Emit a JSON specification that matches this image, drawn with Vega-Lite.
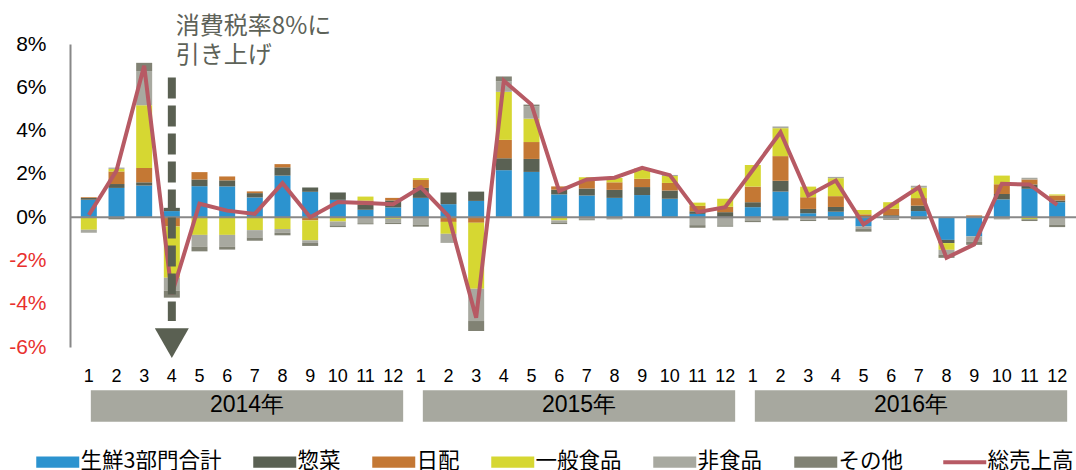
{
  "$schema": "https://vega.github.io/schema/vega-lite/v6.json",
  "width": 1006,
  "height": 303,
  "autosize": {"type": "none"},
  "padding": {"left": 70, "top": 44, "right": 0, "bottom": 123},
  "background": "white",
  "config": {
    "view": {"stroke": null},
    "font": "Liberation Sans",
    "axis": {"labelFont": "Liberation Sans"}
  },
  "datasets": {
    "series": [
      {"s": "生鮮3部門合計", "o": 1},
      {"s": "惣菜", "o": 2},
      {"s": "日配", "o": 3},
      {"s": "一般食品", "o": 4},
      {"s": "非食品", "o": 5},
      {"s": "その他", "o": 6}
    ],
    "total": [
      {"i": 1, "m": 1, "year": "2014年", "t": 0.1},
      {"i": 2, "m": 2, "year": "2014年", "t": 2.15},
      {"i": 3, "m": 3, "year": "2014年", "t": 7.0},
      {"i": 4, "m": 4, "year": "2014年", "t": -3.55},
      {"i": 5, "m": 5, "year": "2014年", "t": 0.62},
      {"i": 6, "m": 6, "year": "2014年", "t": 0.3},
      {"i": 7, "m": 7, "year": "2014年", "t": 0.15},
      {"i": 8, "m": 8, "year": "2014年", "t": 1.57},
      {"i": 9, "m": 9, "year": "2014年", "t": 0.0},
      {"i": 10, "m": 10, "year": "2014年", "t": 0.7},
      {"i": 11, "m": 11, "year": "2014年", "t": 0.65},
      {"i": 12, "m": 12, "year": "2014年", "t": 0.6},
      {"i": 13, "m": 1, "year": "2015年", "t": 1.38},
      {"i": 14, "m": 2, "year": "2015年", "t": 0.05},
      {"i": 15, "m": 3, "year": "2015年", "t": -4.65},
      {"i": 16, "m": 4, "year": "2015年", "t": 6.3},
      {"i": 17, "m": 5, "year": "2015年", "t": 5.2},
      {"i": 18, "m": 6, "year": "2015年", "t": 1.2},
      {"i": 19, "m": 7, "year": "2015年", "t": 1.74},
      {"i": 20, "m": 8, "year": "2015年", "t": 1.82},
      {"i": 21, "m": 9, "year": "2015年", "t": 2.28},
      {"i": 22, "m": 10, "year": "2015年", "t": 1.94},
      {"i": 23, "m": 11, "year": "2015年", "t": 0.23},
      {"i": 24, "m": 12, "year": "2015年", "t": 0.46},
      {"i": 25, "m": 1, "year": "2016年", "t": 2.18},
      {"i": 26, "m": 2, "year": "2016年", "t": 3.92},
      {"i": 27, "m": 3, "year": "2016年", "t": 1.0},
      {"i": 28, "m": 4, "year": "2016年", "t": 1.69},
      {"i": 29, "m": 5, "year": "2016年", "t": -0.34},
      {"i": 30, "m": 6, "year": "2016年", "t": 0.55},
      {"i": 31, "m": 7, "year": "2016年", "t": 1.38},
      {"i": 32, "m": 8, "year": "2016年", "t": -1.88},
      {"i": 33, "m": 9, "year": "2016年", "t": -1.26},
      {"i": 34, "m": 10, "year": "2016年", "t": 1.54},
      {"i": 35, "m": 11, "year": "2016年", "t": 1.51},
      {"i": 36, "m": 12, "year": "2016年", "t": 0.57}
    ],
    "parts": [
      {"i": 1, "s": "生鮮3部門合計", "v": 0.8}, {"i": 1, "s": "惣菜", "v": 0.09}, {"i": 1, "s": "日配", "v": 0.03}, {"i": 1, "s": "一般食品", "v": -0.58}, {"i": 1, "s": "非食品", "v": -0.14}, {"i": 1, "s": "その他", "v": 0},
      {"i": 2, "s": "生鮮3部門合計", "v": 1.35}, {"i": 2, "s": "惣菜", "v": 0.18}, {"i": 2, "s": "日配", "v": 0.58}, {"i": 2, "s": "一般食品", "v": 0.12}, {"i": 2, "s": "非食品", "v": 0.06}, {"i": 2, "s": "その他", "v": -0.1},
      {"i": 3, "s": "生鮮3部門合計", "v": 1.46}, {"i": 3, "s": "惣菜", "v": 0.15}, {"i": 3, "s": "日配", "v": 0.66}, {"i": 3, "s": "一般食品", "v": 2.9}, {"i": 3, "s": "非食品", "v": 1.58}, {"i": 3, "s": "その他", "v": 0.38},
      {"i": 4, "s": "生鮮3部門合計", "v": 0.28}, {"i": 4, "s": "惣菜", "v": 0.15}, {"i": 4, "s": "日配", "v": -0.43}, {"i": 4, "s": "一般食品", "v": -2.37}, {"i": 4, "s": "非食品", "v": -0.6}, {"i": 4, "s": "その他", "v": -0.32},
      {"i": 5, "s": "生鮮3部門合計", "v": 1.43}, {"i": 5, "s": "惣菜", "v": 0.31}, {"i": 5, "s": "日配", "v": 0.34}, {"i": 5, "s": "一般食品", "v": -0.82}, {"i": 5, "s": "非食品", "v": -0.54}, {"i": 5, "s": "その他", "v": -0.22},
      {"i": 6, "s": "生鮮3部門合計", "v": 1.42}, {"i": 6, "s": "惣菜", "v": 0.28}, {"i": 6, "s": "日配", "v": 0.18}, {"i": 6, "s": "一般食品", "v": -0.82}, {"i": 6, "s": "非食品", "v": -0.54}, {"i": 6, "s": "その他", "v": -0.14},
      {"i": 7, "s": "生鮮3部門合計", "v": 0.91}, {"i": 7, "s": "惣菜", "v": 0.2}, {"i": 7, "s": "日配", "v": 0.08}, {"i": 7, "s": "一般食品", "v": -0.6}, {"i": 7, "s": "非食品", "v": -0.34}, {"i": 7, "s": "その他", "v": -0.15},
      {"i": 8, "s": "生鮮3部門合計", "v": 1.92}, {"i": 8, "s": "惣菜", "v": 0.38}, {"i": 8, "s": "日配", "v": 0.15}, {"i": 8, "s": "一般食品", "v": -0.55}, {"i": 8, "s": "非食品", "v": -0.17}, {"i": 8, "s": "その他", "v": -0.12},
      {"i": 9, "s": "生鮮3部門合計", "v": 1.17}, {"i": 9, "s": "惣菜", "v": 0.2}, {"i": 9, "s": "日配", "v": -0.15}, {"i": 9, "s": "一般食品", "v": -0.92}, {"i": 9, "s": "非食品", "v": -0.12}, {"i": 9, "s": "その他", "v": -0.14},
      {"i": 10, "s": "生鮮3部門合計", "v": 0.8}, {"i": 10, "s": "惣菜", "v": 0.34}, {"i": 10, "s": "日配", "v": 0}, {"i": 10, "s": "一般食品", "v": -0.2}, {"i": 10, "s": "非食品", "v": -0.18}, {"i": 10, "s": "その他", "v": -0.08},
      {"i": 11, "s": "生鮮3部門合計", "v": 0.34}, {"i": 11, "s": "惣菜", "v": 0.23}, {"i": 11, "s": "日配", "v": 0.2}, {"i": 11, "s": "一般食品", "v": 0.18}, {"i": 11, "s": "非食品", "v": -0.28}, {"i": 11, "s": "その他", "v": -0.05},
      {"i": 12, "s": "生鮮3部門合計", "v": 0.45}, {"i": 12, "s": "惣菜", "v": 0.32}, {"i": 12, "s": "日配", "v": 0.12}, {"i": 12, "s": "一般食品", "v": -0.08}, {"i": 12, "s": "非食品", "v": -0.18}, {"i": 12, "s": "その他", "v": -0.06},
      {"i": 13, "s": "生鮮3部門合計", "v": 0.89}, {"i": 13, "s": "惣菜", "v": 0.46}, {"i": 13, "s": "日配", "v": 0.37}, {"i": 13, "s": "一般食品", "v": 0.08}, {"i": 13, "s": "非食品", "v": -0.34}, {"i": 13, "s": "その他", "v": -0.1},
      {"i": 14, "s": "生鮮3部門合計", "v": 0.6}, {"i": 14, "s": "惣菜", "v": 0.54}, {"i": 14, "s": "日配", "v": -0.22}, {"i": 14, "s": "一般食品", "v": -0.55}, {"i": 14, "s": "非食品", "v": -0.42}, {"i": 14, "s": "その他", "v": 0},
      {"i": 15, "s": "生鮮3部門合計", "v": 0.75}, {"i": 15, "s": "惣菜", "v": 0.43}, {"i": 15, "s": "日配", "v": -0.26}, {"i": 15, "s": "一般食品", "v": -3.05}, {"i": 15, "s": "非食品", "v": -1.49}, {"i": 15, "s": "その他", "v": -0.46},
      {"i": 16, "s": "生鮮3部門合計", "v": 2.17}, {"i": 16, "s": "惣菜", "v": 0.55}, {"i": 16, "s": "日配", "v": 0.85}, {"i": 16, "s": "一般食品", "v": 2.22}, {"i": 16, "s": "非食品", "v": 0.49}, {"i": 16, "s": "その他", "v": 0.22},
      {"i": 17, "s": "生鮮3部門合計", "v": 2.09}, {"i": 17, "s": "惣菜", "v": 0.6}, {"i": 17, "s": "日配", "v": 0.78}, {"i": 17, "s": "一般食品", "v": 1.08}, {"i": 17, "s": "非食品", "v": 0.57}, {"i": 17, "s": "その他", "v": 0.08},
      {"i": 18, "s": "生鮮3部門合計", "v": 1.05}, {"i": 18, "s": "惣菜", "v": 0.22}, {"i": 18, "s": "日配", "v": 0.15}, {"i": 18, "s": "一般食品", "v": -0.15}, {"i": 18, "s": "非食品", "v": -0.12}, {"i": 18, "s": "その他", "v": -0.05},
      {"i": 19, "s": "生鮮3部門合計", "v": 1.0}, {"i": 19, "s": "惣菜", "v": 0.32}, {"i": 19, "s": "日配", "v": 0.37}, {"i": 19, "s": "一般食品", "v": 0.15}, {"i": 19, "s": "非食品", "v": -0.1}, {"i": 19, "s": "その他", "v": -0.04},
      {"i": 20, "s": "生鮮3部門合計", "v": 0.89}, {"i": 20, "s": "惣菜", "v": 0.37}, {"i": 20, "s": "日配", "v": 0.35}, {"i": 20, "s": "一般食品", "v": 0.2}, {"i": 20, "s": "非食品", "v": -0.07}, {"i": 20, "s": "その他", "v": -0.03},
      {"i": 21, "s": "生鮮3部門合計", "v": 1.02}, {"i": 21, "s": "惣菜", "v": 0.37}, {"i": 21, "s": "日配", "v": 0.38}, {"i": 21, "s": "一般食品", "v": 0.48}, {"i": 21, "s": "非食品", "v": 0}, {"i": 21, "s": "その他", "v": 0},
      {"i": 22, "s": "生鮮3部門合計", "v": 0.85}, {"i": 22, "s": "惣菜", "v": 0.38}, {"i": 22, "s": "日配", "v": 0.35}, {"i": 22, "s": "一般食品", "v": 0.32}, {"i": 22, "s": "非食品", "v": 0.05}, {"i": 22, "s": "その他", "v": 0},
      {"i": 23, "s": "生鮮3部門合計", "v": 0.15}, {"i": 23, "s": "惣菜", "v": 0.12}, {"i": 23, "s": "日配", "v": 0.25}, {"i": 23, "s": "一般食品", "v": 0.15}, {"i": 23, "s": "非食品", "v": -0.37}, {"i": 23, "s": "その他", "v": -0.12},
      {"i": 24, "s": "生鮮3部門合計", "v": 0}, {"i": 24, "s": "惣菜", "v": 0.23}, {"i": 24, "s": "日配", "v": 0.25}, {"i": 24, "s": "一般食品", "v": 0.37}, {"i": 24, "s": "非食品", "v": -0.38}, {"i": 24, "s": "その他", "v": -0.06},
      {"i": 25, "s": "生鮮3部門合計", "v": 0.46}, {"i": 25, "s": "惣菜", "v": 0.23}, {"i": 25, "s": "日配", "v": 0.72}, {"i": 25, "s": "一般食品", "v": 1.0}, {"i": 25, "s": "非食品", "v": -0.15}, {"i": 25, "s": "その他", "v": -0.08},
      {"i": 26, "s": "生鮮3部門合計", "v": 1.18}, {"i": 26, "s": "惣菜", "v": 0.5}, {"i": 26, "s": "日配", "v": 1.14}, {"i": 26, "s": "一般食品", "v": 1.29}, {"i": 26, "s": "非食品", "v": 0.08}, {"i": 26, "s": "その他", "v": -0.15},
      {"i": 27, "s": "生鮮3部門合計", "v": 0.18}, {"i": 27, "s": "惣菜", "v": 0.2}, {"i": 27, "s": "日配", "v": 0.54}, {"i": 27, "s": "一般食品", "v": 0.49}, {"i": 27, "s": "非食品", "v": -0.12}, {"i": 27, "s": "その他", "v": -0.06},
      {"i": 28, "s": "生鮮3部門合計", "v": 0.25}, {"i": 28, "s": "惣菜", "v": 0.22}, {"i": 28, "s": "日配", "v": 0.5}, {"i": 28, "s": "一般食品", "v": 0.83}, {"i": 28, "s": "非食品", "v": 0.06}, {"i": 28, "s": "その他", "v": -0.12},
      {"i": 29, "s": "生鮮3部門合計", "v": -0.43}, {"i": 29, "s": "惣菜", "v": 0.05}, {"i": 29, "s": "日配", "v": 0.08}, {"i": 29, "s": "一般食品", "v": 0.2}, {"i": 29, "s": "非食品", "v": -0.12}, {"i": 29, "s": "その他", "v": -0.12},
      {"i": 30, "s": "生鮮3部門合計", "v": 0.03}, {"i": 30, "s": "惣菜", "v": 0.06}, {"i": 30, "s": "日配", "v": 0.3}, {"i": 30, "s": "一般食品", "v": 0.3}, {"i": 30, "s": "非食品", "v": -0.08}, {"i": 30, "s": "その他", "v": -0.04},
      {"i": 31, "s": "生鮮3部門合計", "v": 0.28}, {"i": 31, "s": "惣菜", "v": 0.25}, {"i": 31, "s": "日配", "v": 0.35}, {"i": 31, "s": "一般食品", "v": 0.48}, {"i": 31, "s": "非食品", "v": 0.09}, {"i": 31, "s": "その他", "v": -0.1},
      {"i": 32, "s": "生鮮3部門合計", "v": -1.05}, {"i": 32, "s": "惣菜", "v": -0.15}, {"i": 32, "s": "日配", "v": 0}, {"i": 32, "s": "一般食品", "v": -0.31}, {"i": 32, "s": "非食品", "v": -0.22}, {"i": 32, "s": "その他", "v": -0.15},
      {"i": 33, "s": "生鮮3部門合計", "v": -0.89}, {"i": 33, "s": "惣菜", "v": 0}, {"i": 33, "s": "日配", "v": 0.08}, {"i": 33, "s": "一般食品", "v": 0}, {"i": 33, "s": "非食品", "v": -0.25}, {"i": 33, "s": "その他", "v": -0.14},
      {"i": 34, "s": "生鮮3部門合計", "v": 0.82}, {"i": 34, "s": "惣菜", "v": 0.25}, {"i": 34, "s": "日配", "v": 0.45}, {"i": 34, "s": "一般食品", "v": 0.4}, {"i": 34, "s": "非食品", "v": -0.06}, {"i": 34, "s": "その他", "v": -0.04},
      {"i": 35, "s": "生鮮3部門合計", "v": 1.31}, {"i": 35, "s": "惣菜", "v": 0.2}, {"i": 35, "s": "日配", "v": 0.23}, {"i": 35, "s": "一般食品", "v": -0.1}, {"i": 35, "s": "非食品", "v": 0.08}, {"i": 35, "s": "その他", "v": -0.08},
      {"i": 36, "s": "生鮮3部門合計", "v": 0.69}, {"i": 36, "s": "惣菜", "v": 0.08}, {"i": 36, "s": "日配", "v": 0.23}, {"i": 36, "s": "一般食品", "v": 0.05}, {"i": 36, "s": "非食品", "v": -0.34}, {"i": 36, "s": "その他", "v": -0.12}
    ]
  },
  "layer": [
    {
      "data": {"name": "parts"},
      "transform": [
        {"lookup": "s", "from": {"data": {"name": "series"}, "key": "s", "fields": ["o"]}}
      ],
      "mark": {"type": "bar", "size": 16},
      "encoding": {
        "x": {
          "field": "i", "type": "quantitative",
          "scale": {"domain": [0.5, 36.5], "nice": false, "zero": false},
          "axis": {
            "labels": false, "domain": false, "ticks": false, "grid": false, "title": null
          }
        },
        "y": {
          "field": "v", "type": "quantitative", "stack": "zero",
          "scale": {"domain": [-6, 8], "nice": false, "zero": false},
          "axis": {
            "values": [-6, -4, -2, 0, 2, 4, 6, 8],
            "labelExpr": "datum.value + '%'",
            "labelColor": {"condition": {"test": "datum.value < 0", "value": "#e8302e"}, "value": "#000000"},
            "domain": true, "domainColor": "#888888", "domainWidth": 2,
            "ticks": false, "grid": false, "title": null,
            "labelPadding": 24, "labelFontSize": 21
          }
        },
        "color": {
          "field": "s", "type": "nominal",
          "scale": {
            "domain": ["生鮮3部門合計", "惣菜", "日配", "一般食品", "非食品", "その他", "総売上高"],
            "range": ["#2c93cf", "#5a6153", "#c47834", "#d6d732", "#a8a9a0", "#818274", "#b75a64"]
          },
          "legend": {
            "orient": "none", "legendX": -23, "legendY": 407,
            "direction": "horizontal", "title": null,
            "labelFont": "Noto Sans CJK JP", "labelFontSize": 21.5, "labelColor": "#000000",
            "labelOffset": 12, "symbolSize": 1849, "columnPadding": 31, "padding": 0,
            "encode": {
              "symbols": {
                "update": {
                  "shape": {"signal": "datum.value === '総売上高' ? 'stroke' : 'M-1,-0.26H1V0.26H-1Z'"},
                  "fill": {"signal": "datum.value === '総売上高' ? 'transparent' : scale('color', datum.value)"},
                  "stroke": {"signal": "scale('color', datum.value)"},
                  "strokeWidth": {"signal": "datum.value === '総売上高' ? 4 : 0"},
                  "opacity": {"value": 1}
                }
              }
            }
          }
        },
        "order": {"field": "o", "type": "quantitative"}
      }
    },
    {
      "data": {"name": "total"},
      "mark": {"type": "text", "fontSize": 18, "font": "Liberation Sans", "color": "#000000", "baseline": "middle"},
      "encoding": {
        "x": {"field": "i", "type": "quantitative"},
        "y": {"datum": -7.4, "type": "quantitative"},
        "text": {"field": "m"}
      }
    },
    {
      "data": {"name": "total"},
      "transform": [
        {"aggregate": [
          {"op": "min", "field": "i", "as": "a"},
          {"op": "max", "field": "i", "as": "b"},
          {"op": "mean", "field": "i", "as": "c"}
        ], "groupby": ["year"]}
      ],
      "layer": [
        {
          "mark": {"type": "rect", "color": "#a7a89f", "xOffset": 2, "x2Offset": 10},
          "encoding": {
            "x": {"field": "a", "type": "quantitative"},
            "x2": {"field": "b"},
            "y": {"datum": -8.0, "type": "quantitative"},
            "y2": {"datum": -9.45}
          }
        },
        {
          "mark": {"type": "text", "fontSize": 23, "font": "Liberation Sans", "color": "#000000", "dx": 6, "baseline": "middle"},
          "encoding": {
            "x": {"field": "c", "type": "quantitative"},
            "y": {"datum": -8.7, "type": "quantitative"},
            "text": {"field": "year"}
          }
        }
      ]
    },
    {
      "data": {"values": [{}]},
      "mark": {"type": "rule", "color": "#888888", "strokeWidth": 2},
      "encoding": {"y": {"datum": 0, "type": "quantitative"}}
    },
    {
      "data": {"name": "total"},
      "mark": {"type": "line", "strokeWidth": 4},
      "encoding": {
        "x": {"field": "i", "type": "quantitative"},
        "y": {"field": "t", "type": "quantitative"},
        "color": {"datum": "総売上高"}
      }
    },
    {
      "data": {"values": [{}]},
      "mark": {"type": "rule", "color": "#5a6052", "strokeWidth": 8, "strokeDash": [21, 7]},
      "encoding": {
        "x": {"datum": 4, "type": "quantitative"},
        "y": {"datum": 6.45, "type": "quantitative"},
        "y2": {"datum": -4.8}
      }
    },
    {
      "data": {"values": [{}]},
      "mark": {"type": "point", "shape": "M-1,-0.88L1,-0.88L0,0.88Z", "size": 1156, "filled": true, "color": "#5a6052", "opacity": 1},
      "encoding": {
        "x": {"datum": 4, "type": "quantitative"},
        "y": {"datum": -5.82, "type": "quantitative"}
      }
    },
    {
      "data": {"values": [{}]},
      "mark": {"type": "text", "align": "left", "baseline": "top", "dx": 4, "fontSize": 24, "lineHeight": 29, "font": "Noto Sans CJK JP", "color": "#5d6258", "text": ["消費税率8%に", "引き上げ"]},
      "encoding": {
        "x": {"datum": 4, "type": "quantitative"},
        "y": {"datum": 9.35, "type": "quantitative"}
      }
    }
  ]
}
